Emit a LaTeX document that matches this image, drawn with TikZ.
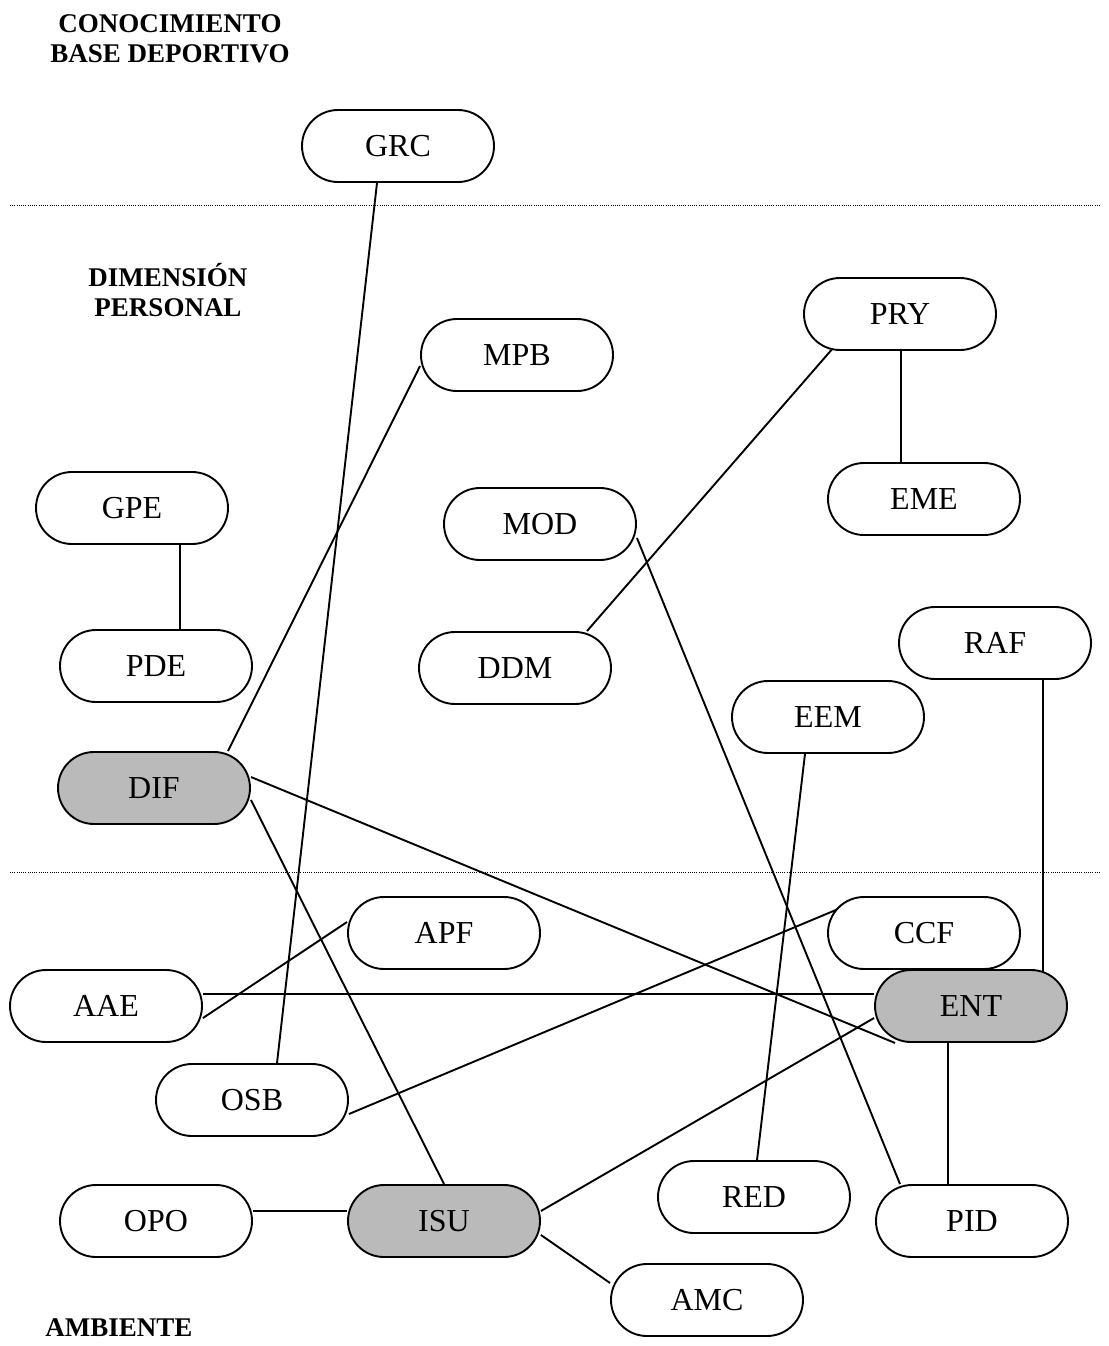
\documentclass[tikz,border=0pt]{standalone}
\usepackage{fontspec}
\setmainfont{Liberation Serif}
\usetikzlibrary{backgrounds}
\begin{document}
\begin{tikzpicture}[x=1pt,y=-1pt,
  box/.style={draw, line width=1.9pt, rounded corners=36pt, fill=white,
    minimum width=192pt, minimum height=72pt, inner sep=0pt,
    font=\fontsize{32}{35}\selectfont},
  shaded/.style={box, fill=black!27},
  link/.style={line width=1.9pt},
  divider/.style={line width=1pt, dash pattern=on 1pt off 1.2pt},
  heading/.style={align=center, font=\fontsize{27}{30.5}\selectfont\bfseries}]
\useasboundingbox (0,0) rectangle (1108,1346);

% section headings
\node[heading] (hcon) at (170,39) {CONOCIMIENTO\\BASE DEPORTIVO};
\node[heading] (hdim) at (168,290) {DIMENSIÓN\\PERSONAL};
\node[heading] (hamb) at (119,1328) {AMBIENTE};

% dotted separators between the three levels
\coordinate (s1a) at (10,205);  \coordinate (s1b) at (1100,205);
\coordinate (s2a) at (10,872);  \coordinate (s2b) at (1100,872);
\draw[divider] (s1a) -- (s1b);
\draw[divider] (s2a) -- (s2b);

% concept nodes
\node[box] (GRC) at (398,146) {GRC};
\node[box] (MPB) at (517,355) {MPB};
\node[box] (PRY) at (900,314) {PRY};
\node[box] (GPE) at (132,508) {GPE};
\node[box] (MOD) at (540,524) {MOD};
\node[box] (EME) at (924,499) {EME};
\node[box] (PDE) at (156,666) {PDE};
\node[box] (DDM) at (515,668) {DDM};
\node[box] (RAF) at (995,643) {RAF};
\node[box] (EEM) at (828,717) {EEM};
\node[shaded] (DIF) at (154,788) {DIF};
\node[box] (APF) at (444,933) {APF};
\node[box] (CCF) at (924,933) {CCF};
\node[box] (AAE) at (106,1006) {AAE};
\node[shaded] (ENT) at (971,1006) {ENT};
\node[box] (OSB) at (252,1100) {OSB};
\node[box] (RED) at (754,1197) {RED};
\node[box] (PID) at (972,1221) {PID};
\node[box] (OPO) at (156,1221) {OPO};
\node[shaded] (ISU) at (444,1221) {ISU};
\node[box] (AMC) at (707,1300) {AMC};

% relations, drawn beneath the boxes so their ends meet the outlines
\begin{scope}[on background layer]
\draw[link] ([xshift=-21pt]GRC.south) -- ([xshift=25pt]OSB.north);
\draw[link] ([yshift=-11pt]MPB.west) -- ([xshift=74pt]DIF.north);
\draw[link] ([xshift=-66pt,yshift=4pt]PRY.south) -- ([xshift=72pt]DDM.north);
\draw[link] ([xshift=1pt]PRY.south) -- ([xshift=-23pt]EME.north);
\draw[link] ([xshift=48pt]GPE.south) -- ([xshift=24pt]PDE.north);
\draw[link] ([yshift=-14pt]MOD.east) -- ([xshift=-72pt]PID.north);
\draw[link] ([xshift=48pt]RAF.south) -- ([xshift=72pt,yshift=-4pt]ENT.north);
\draw[link] ([xshift=-23pt]EEM.south) -- ([xshift=3pt]RED.north);
\draw[link] ([yshift=11pt]DIF.east) -- ([xshift=-76pt]ENT.south);
\draw[link] ([yshift=-12pt]DIF.east) -- (ISU.north);
\draw[link] ([yshift=11pt]APF.west) -- ([yshift=-12pt]AAE.east);
\draw[link] ([yshift=12pt]AAE.east) -- ([yshift=12pt]ENT.west);
\draw[link] ([xshift=-74pt,yshift=-8pt]CCF.north) -- ([yshift=-14pt]OSB.east);
\draw[link] ([yshift=-12pt]ENT.west) -- ([yshift=10pt]ISU.east);
\draw[link] ([xshift=-23pt]ENT.south) -- ([xshift=-24pt]PID.north);
\draw[link] ([yshift=10pt]OPO.east) -- ([yshift=10pt]ISU.west);
\draw[link] ([yshift=-14pt]ISU.east) -- ([yshift=17pt]AMC.west);
\end{scope}
\end{tikzpicture}
\end{document}
